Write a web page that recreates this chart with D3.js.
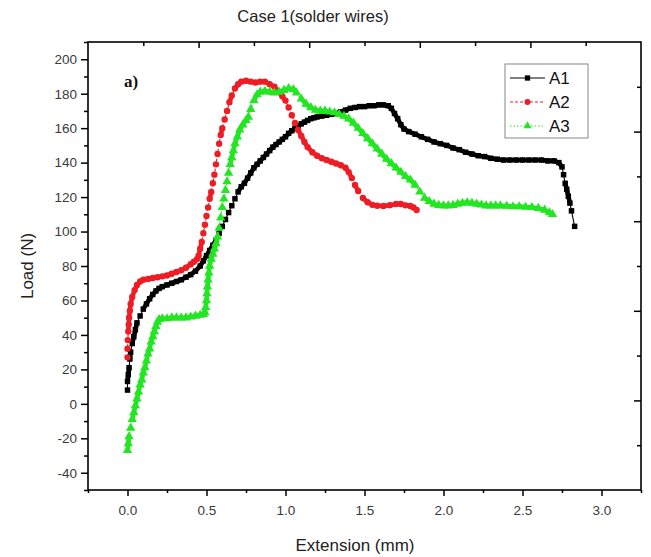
<!DOCTYPE html>
<html><head><meta charset="utf-8">
<script src="https://cdn.jsdelivr.net/npm/d3@7/dist/d3.min.js"></script>
<style>
html,body{margin:0;padding:0;background:#fff;}
svg{display:block;font-family:"Liberation Sans",Arial,sans-serif;}
</style></head>
<body><svg id="c" width="651" height="557"></svg>
<script>
const title = "Case 1(solder wires)";
const xLabel = "Extension (mm)";
const yLabel = "Load (N)";
const panelLabel = "a)";
const seriesNames = ["A1", "A2", "A3"];
const xTicks = [0, 0.5, 1.0, 1.5, 2.0, 2.5, 3.0];
const yTicks = [-40, -20, 0, 20, 40, 60, 80, 100, 120, 140, 160, 180, 200];

const a1 = [[0,8],[0,13],[0.005,17],[0.01,21],[0.015,26],[0.02,30],[0.03,35],[0.04,39],[0.05,43],[0.06,47],[0.08,51],[0.10,55],[0.12,58],[0.14,61],[0.16,63.5],[0.18,65.5],[0.20,67],[0.22,68],[0.25,69],[0.28,70],[0.31,71],[0.34,72],[0.37,73.5],[0.40,75],[0.43,77],[0.46,80],[0.48,83],[0.50,86],[0.52,89],[0.54,92],[0.56,95],[0.58,99],[0.60,103],[0.62,107],[0.64,111],[0.66,115],[0.68,119],[0.70,123],[0.72,126],[0.74,128],[0.76,131],[0.78,134],[0.80,137],[0.82,139],[0.84,141],[0.86,143],[0.88,145],[0.90,147],[0.92,149],[0.94,150.5],[0.96,152],[0.98,153.5],[1.00,155],[1.02,157],[1.04,158.5],[1.06,160],[1.08,161],[1.10,162.5],[1.12,163.5],[1.14,164.5],[1.16,165.5],[1.18,166],[1.20,166.5],[1.23,167],[1.26,167.5],[1.29,168],[1.32,168.5],[1.35,169.5],[1.38,170.5],[1.41,171.5],[1.44,172],[1.47,172.5],[1.50,172.5],[1.53,173],[1.56,173],[1.59,173.5],[1.62,173.5],[1.65,173],[1.67,171.5],[1.69,168.5],[1.71,165.5],[1.73,162],[1.75,159.5],[1.78,158],[1.82,156.5],[1.86,155],[1.90,153.5],[1.94,152],[1.98,151],[2.02,150],[2.06,148.5],[2.10,147.5],[2.14,146],[2.18,145],[2.22,144],[2.26,143.5],[2.30,142.5],[2.34,142],[2.38,141.5],[2.42,141.5],[2.46,141.5],[2.50,141.5],[2.54,141.5],[2.58,141.5],[2.62,141.5],[2.66,141],[2.70,141],[2.73,140],[2.75,137.5],[2.76,133],[2.77,128],[2.78,124.5],[2.79,120.5],[2.80,116.5],[2.81,112],[2.83,103]];

const a2 = [[0,27],[0,32],[0.002,37],[0.005,42],[0.008,46],[0.01,50],[0.015,54],[0.02,58],[0.03,62],[0.045,66],[0.06,69],[0.08,71],[0.10,72],[0.13,72.5],[0.16,73],[0.19,73.5],[0.22,74],[0.25,74.5],[0.28,75.5],[0.31,76.5],[0.34,77.5],[0.37,79],[0.40,81],[0.42,82.5],[0.44,84],[0.45,86],[0.46,90],[0.47,94],[0.48,99],[0.49,104],[0.50,109],[0.51,114],[0.52,119],[0.53,123],[0.54,128],[0.55,133],[0.56,139],[0.57,145],[0.58,151],[0.59,156],[0.60,160],[0.615,165],[0.63,170],[0.645,175],[0.66,179],[0.68,183],[0.70,185.5],[0.72,187],[0.75,187.5],[0.78,187],[0.81,186.5],[0.84,187],[0.87,187],[0.90,185.5],[0.93,184],[0.96,181],[0.98,178.5],[1.00,176],[1.02,172],[1.04,167.5],[1.06,163],[1.08,159],[1.10,155.5],[1.12,152],[1.14,149],[1.17,146],[1.20,144],[1.23,142.5],[1.26,141.5],[1.29,140.5],[1.32,139.5],[1.35,138.5],[1.38,137],[1.40,134.5],[1.42,131],[1.44,127],[1.46,123.5],[1.49,119.5],[1.52,117],[1.55,115.5],[1.58,115],[1.62,114.8],[1.66,115.3],[1.70,116],[1.73,116],[1.76,115.2],[1.79,114.8],[1.81,114],[1.83,112.5]];

const a3 = [[0,-27],[0.005,-23],[0.01,-19],[0.02,-14],[0.03,-9],[0.04,-5],[0.05,-1],[0.06,3],[0.07,7],[0.08,11],[0.09,14],[0.10,18],[0.11,21],[0.12,25],[0.13,29],[0.14,32],[0.15,36],[0.16,39],[0.17,42],[0.18,45],[0.19,47.5],[0.20,49],[0.22,49.5],[0.25,49.5],[0.28,50],[0.31,50],[0.34,50],[0.37,50],[0.40,50.5],[0.43,51],[0.46,51.5],[0.48,52],[0.49,53],[0.495,56],[0.50,60],[0.503,64],[0.506,68],[0.51,72],[0.515,76],[0.52,80],[0.53,84],[0.54,87],[0.55,90],[0.56,93],[0.57,97],[0.58,102],[0.59,108],[0.60,114],[0.61,119],[0.62,124],[0.63,129],[0.64,134],[0.65,139],[0.66,143],[0.67,147],[0.68,151],[0.695,155],[0.71,159],[0.73,162],[0.75,164.5],[0.765,166.5],[0.78,171],[0.80,176],[0.82,179.5],[0.84,181],[0.87,181.5],[0.90,181],[0.93,180.5],[0.96,181],[0.99,182],[1.02,183],[1.05,182.5],[1.07,180.5],[1.10,177],[1.13,174],[1.16,172],[1.19,170.5],[1.22,170],[1.25,170],[1.28,169.5],[1.31,169],[1.34,168],[1.37,167],[1.40,165.5],[1.43,163],[1.46,160],[1.49,157],[1.52,154],[1.55,151],[1.58,148],[1.61,145],[1.64,142],[1.67,139.5],[1.70,137],[1.73,134.5],[1.76,132],[1.79,130],[1.82,127],[1.85,123],[1.88,119.5],[1.91,117.5],[1.94,116],[1.97,115.3],[2.00,115],[2.03,115],[2.06,115.3],[2.09,116],[2.12,116.5],[2.15,116.8],[2.18,116.5],[2.21,116],[2.24,115.5],[2.27,115],[2.30,115],[2.33,115],[2.36,115],[2.40,114.8],[2.44,114.5],[2.48,114.5],[2.52,114.2],[2.56,114],[2.60,113.5],[2.64,112.5],[2.67,111],[2.69,110]];

const colors = ["#000000", "#ee1c24", "#22e622"];

const svg = d3.select("#c");
const L = 88, R = 641, T = 42, B = 490;
const x = d3.scaleLinear().domain([-0.25, 3.25]).range([L, R]);
const y = d3.scaleLinear().domain([-50, 210]).range([B, T]);
const xTop = d3.scaleLinear().domain([0, 10]).range([L, R]);
const yRight = d3.scaleLinear().domain([0, 10]).range([B, T]);

svg.append("rect").attr("x", L).attr("y", T).attr("width", R - L).attr("height", B - T)
  .attr("fill", "none").attr("stroke", "#000").attr("stroke-width", 1.6);

function styleAxis(g) {
  g.select(".domain").remove();
  g.selectAll(".tick line").attr("stroke", "#000").attr("stroke-width", 1.5);
  g.selectAll(".tick text").attr("fill", "#3a3a3a").attr("font-size", 13.5)
    .attr("font-family", "'Liberation Sans',Arial,sans-serif");
}
const plain = d => String(d);

const gx = svg.append("g").attr("transform", `translate(0,${B})`)
  .call(d3.axisBottom(x).tickValues(xTicks).tickFormat(d => d.toFixed(1)).tickSize(6).tickPadding(9));
styleAxis(gx);
const gxm = svg.append("g").attr("transform", `translate(0,${B})`)
  .call(d3.axisBottom(x).tickValues(d3.range(-0.25, 3.26, 0.5)).tickFormat("").tickSize(3));
styleAxis(gxm);

const gy = svg.append("g").attr("transform", `translate(${L},0)`)
  .call(d3.axisLeft(y).tickValues(yTicks).tickFormat(plain).tickSize(7).tickPadding(4));
styleAxis(gy);
const gym = svg.append("g").attr("transform", `translate(${L},0)`)
  .call(d3.axisLeft(y).tickValues(d3.range(-50, 211, 20)).tickFormat("").tickSize(4));
styleAxis(gym);

const gt = svg.append("g").attr("transform", `translate(0,${T})`)
  .call(d3.axisTop(xTop).tickValues([2, 4, 6, 8]).tickFormat("").tickSize(-6));
styleAxis(gt);
const gtm = svg.append("g").attr("transform", `translate(0,${T})`)
  .call(d3.axisTop(xTop).tickValues([1, 3, 5, 7, 9]).tickFormat("").tickSize(-4));
styleAxis(gtm);

const gr = svg.append("g").attr("transform", `translate(${R},0)`)
  .call(d3.axisRight(yRight).tickValues([2, 4, 6, 8]).tickFormat("").tickSize(-7));
styleAxis(gr);
const grm = svg.append("g").attr("transform", `translate(${R},0)`)
  .call(d3.axisRight(yRight).tickValues([1, 3, 5, 7, 9]).tickFormat("").tickSize(-4));
styleAxis(grm);

const series = [a1, a2, a3];
const dashes = [null, "3,2", "1.5,2"];
const shapes = [d3.symbolSquare, d3.symbolCircle, d3.symbolTriangle];
const sizes = [30, 32, 38];
const line = d3.line().x(d => x(d[0])).y(d => y(d[1]));

series.forEach((data, i) => {
  const g = svg.append("g");
  g.append("path").datum(data).attr("d", line).attr("fill", "none")
    .attr("stroke", colors[i]).attr("stroke-width", 1.1).attr("stroke-dasharray", dashes[i]);
  // where samples are close together the markers merge into a thick trace
  const pairs = d3.pairs(data).filter(([p, q]) =>
    Math.hypot(x(q[0]) - x(p[0]), y(q[1]) - y(p[1])) < 7.5);
  g.selectAll("line.t").data(pairs).enter().append("line").attr("class", "t")
    .attr("x1", d => x(d[0][0])).attr("y1", d => y(d[0][1]))
    .attr("x2", d => x(d[1][0])).attr("y2", d => y(d[1][1]))
    .attr("stroke", colors[i]).attr("stroke-width", 4.6).attr("stroke-linecap", "round");
  g.selectAll("path.m").data(data).enter().append("path").attr("class", "m")
    .attr("transform", d => `translate(${x(d[0])},${y(d[1])})`)
    .attr("d", d3.symbol().type(shapes[i]).size(sizes[i]))
    .attr("fill", colors[i]);
});

const lg = svg.append("g");
lg.append("rect").attr("x", 505).attr("y", 64).attr("width", 83).attr("height", 74)
  .attr("fill", "#fff").attr("stroke", "#888").attr("stroke-width", 1);
seriesNames.forEach((name, i) => {
  const ly = 78 + i * 24;
  lg.append("line").attr("x1", 510).attr("x2", 545).attr("y1", ly).attr("y2", ly)
    .attr("stroke", colors[i]).attr("stroke-width", 1).attr("stroke-dasharray", dashes[i]);
  lg.append("path").attr("transform", `translate(527.5,${ly})`)
    .attr("d", d3.symbol().type(shapes[i]).size(28)).attr("fill", colors[i]);
  lg.append("text").attr("x", 549).attr("y", ly + 6).attr("font-size", 17).attr("fill", "#111").text(name);
});

svg.append("text").attr("x", 313).attr("y", 22).attr("text-anchor", "middle")
  .attr("font-size", 16.5).attr("fill", "#222").text(title);
svg.append("text").attr("x", 355).attr("y", 551).attr("text-anchor", "middle")
  .attr("font-size", 17).attr("fill", "#222").text(xLabel);
svg.append("text").attr("transform", "translate(33,266) rotate(-90)").attr("text-anchor", "middle")
  .attr("font-size", 17).attr("fill", "#222").text(yLabel);
svg.append("text").attr("x", 124).attr("y", 87)
  .attr("font-family", "'Liberation Serif','Times New Roman',serif").attr("font-weight", "bold")
  .attr("font-size", 17).attr("fill", "#111").text(panelLabel);
</script></body></html>
